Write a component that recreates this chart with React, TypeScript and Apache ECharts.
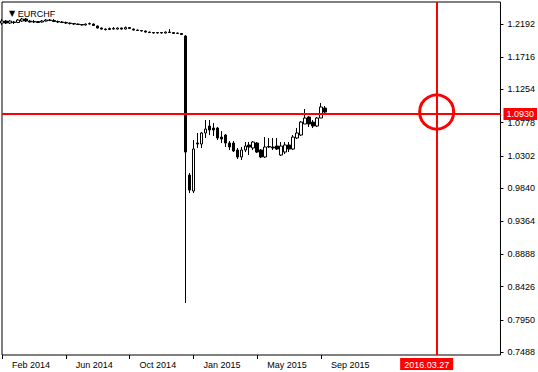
import React, { useEffect, useRef } from "react";
import * as echarts from "echarts";

const symbolName = "EURCHF";
const firstWeek = [2014, 2, 23];
const weekCount = 126;
const labelEvery = 16;
const lastLabelIndex = 81;
const priceTicks = [1.2192, 1.1716, 1.1254, 1.0778, 1.0302, 0.984, 0.9364, 0.8888, 0.8426, 0.795, 0.7488];
const yMin = 0.7445;
const yMax = 1.2508;
const bidPrice = 1.093;
const crossDate = "2016.03.27";
const crossPrice = 1.093;
const monthNames = ["Jan", "Feb", "Mar", "Apr", "May", "Jun", "Jul", "Aug", "Sep", "Oct", "Nov", "Dec"];

const opens = [
  1.2206, 1.2235, 1.2206, 1.2221, 1.2214, 1.2235, 1.2264, 1.2235, 1.2221, 1.2228,
  1.2221, 1.2235, 1.2249, 1.2242, 1.2228, 1.2221, 1.2214, 1.2206, 1.2199, 1.2192,
  1.2185, 1.2178, 1.2192, 1.2192, 1.2163, 1.2135, 1.212, 1.2113, 1.2128, 1.212,
  1.2135, 1.212, 1.2142, 1.212, 1.2106, 1.2099, 1.2092, 1.2077, 1.207, 1.2063,
  1.207, 1.2063, 1.2077, 1.207, 1.2056, 1.2056,
  1.202, 1.0026, 0.9797, 1.0485, 1.0471, 1.0629, 1.0729, 1.07, 1.07, 1.0571,
  1.06, 1.0485, 1.0485, 1.0385, 1.0285, 1.0385, 1.0457, 1.0414, 1.0485, 1.0385,
  1.0285, 1.0435, 1.0428, 1.0442, 1.0313, 1.0356, 1.0457, 1.0399, 1.0557, 1.06,
  1.0758, 1.0858, 1.0786, 1.0729, 1.0844, 1.0987,
];
const closes = [
  1.2235, 1.2206, 1.2235, 1.2214, 1.2249, 1.2264, 1.2235, 1.2221, 1.2228, 1.2214,
  1.2235, 1.2249, 1.2242, 1.2228, 1.2221, 1.2214, 1.2206, 1.2199, 1.2192, 1.2185,
  1.2178, 1.2192, 1.2199, 1.2171, 1.2135, 1.212, 1.2113, 1.2128, 1.212, 1.2135,
  1.212, 1.2142, 1.2128, 1.2106, 1.2099, 1.2092, 1.2077, 1.207, 1.2063, 1.207,
  1.2063, 1.2077, 1.207, 1.2056, 1.2063, 1.2042,
  1.0356, 0.9811, 1.0399, 1.0471, 1.0629, 1.0686, 1.0672, 1.0672, 1.0557, 1.0543,
  1.0485, 1.0428, 1.0371, 1.0285, 1.0385, 1.0442, 1.0428, 1.05, 1.0356, 1.0285,
  1.0428, 1.0428, 1.0414, 1.0399, 1.0442, 1.0457, 1.0399, 1.0571, 1.0629, 1.0786,
  1.0844, 1.0758, 1.0729, 1.0844, 1.1002, 1.093,
];
const lows = [
  1.2178, 1.2192, 1.2192, 1.2192, 1.2206, 1.2221, 1.2221, 1.2214, 1.2206, 1.2206,
  1.2214, 1.2228, 1.2235, 1.2221, 1.2206, 1.2206, 1.2192, 1.2185, 1.2178, 1.2178,
  1.2171, 1.2171, 1.2185, 1.2163, 1.2128, 1.2113, 1.2099, 1.2106, 1.2113, 1.2113,
  1.2113, 1.2113, 1.212, 1.2099, 1.2092, 1.2085, 1.207, 1.2063, 1.2056, 1.2056,
  1.2056, 1.2056, 1.2063, 1.2049, 1.2049, 1.2034,
  0.8191, 0.9768, 0.9768, 1.0414, 1.0414, 1.0557, 1.06, 1.0586, 1.0528, 1.0485,
  1.0428, 1.0385, 1.0356, 1.0256, 1.0242, 1.0356, 1.0313, 1.0385, 1.0342, 1.027,
  1.027, 1.0414, 1.0385, 1.0385, 1.0299, 1.0328, 1.0356, 1.0385, 1.0543, 1.0586,
  1.0758, 1.0715, 1.07, 1.0715, 1.0844, 1.0901,
];
const highs = [
  1.2264, 1.2249, 1.2249, 1.2235, 1.2264, 1.2278, 1.2278, 1.2249, 1.2249, 1.2235,
  1.2249, 1.2264, 1.2264, 1.2264, 1.2242, 1.2235, 1.2228, 1.2214, 1.2206, 1.2199,
  1.2192, 1.2199, 1.2214, 1.2199, 1.2171, 1.2142, 1.2128, 1.2142, 1.2149, 1.2142,
  1.2142, 1.2156, 1.2149, 1.2128, 1.2113, 1.2106, 1.2099, 1.2085, 1.2077, 1.2077,
  1.2077, 1.2085, 1.212, 1.2077, 1.207, 1.2063,
  1.2034, 1.0055, 1.0528, 1.0629, 1.0643, 1.0815, 1.0815, 1.0772, 1.0715, 1.0657,
  1.0614, 1.0514, 1.0514, 1.0414, 1.0428, 1.05, 1.05, 1.0514, 1.05, 1.0399,
  1.0571, 1.0557, 1.0557, 1.0557, 1.05, 1.05, 1.05, 1.06, 1.07, 1.0801,
  1.0973, 1.0872, 1.0815, 1.0858, 1.1059, 1.1016,
];

const pad = (n: number) => (n < 10 ? "0" + n : "" + n);
const weeks: string[] = [];
for (let i = 0; i < weekCount; i++) {
  const d = new Date(Date.UTC(firstWeek[0], firstWeek[1] - 1, firstWeek[2] + 7 * i));
  weeks.push(d.getUTCFullYear() + "." + pad(d.getUTCMonth() + 1) + "." + pad(d.getUTCDate()));
}

const FONT = "'Liberation Sans', Arial, sans-serif";
const RED = "#ff0000";

export default function App() {
  const ref = useRef<HTMLDivElement>(null);
  useEffect(() => {
    if (!ref.current) return;
    const chart = echarts.init(ref.current, undefined, { renderer: "svg" });
    const showIdx = (index: number) => index % labelEvery === 0 && index <= lastLabelIndex;
    chart.setOption({
      animation: false,
      backgroundColor: "#ffffff",
      title: {
        text: "{t|▼} " + symbolName,
        left: 4,
        top: 4,
        textStyle: {
          fontSize: 9,
          fontWeight: "normal",
          color: "#000",
          fontFamily: FONT,
          rich: { t: { fontSize: 8, fontFamily: "'DejaVu Sans', sans-serif", color: "#000" } },
        },
      },
      grid: {
        left: 2,
        right: 35,
        top: 2,
        bottom: 17,
        show: true,
        borderColor: "#000",
        borderWidth: 1,
        backgroundColor: "#fff",
      },
      xAxis: {
        type: "category",
        data: weeks,
        boundaryGap: false,
        axisLine: { show: false },
        axisTick: { show: true, interval: (i: number) => showIdx(i), length: 4, lineStyle: { color: "#000" } },
        axisLabel: {
          interval: (i: number) => showIdx(i),
          align: "left",
          padding: [0, 0, 0, 10],
          margin: 5,
          fontSize: 9,
          color: "#000",
          fontFamily: FONT,
          formatter: (v: string) => {
            const p = v.split(".");
            return monthNames[parseInt(p[1], 10) - 1] + " " + p[0];
          },
        },
        splitLine: { show: false },
      },
      yAxis: {
        type: "value",
        position: "right",
        min: yMin,
        max: yMax,
        scale: true,
        axisLine: { show: false },
        axisTick: { show: true, customValues: priceTicks, length: 3, lineStyle: { color: "#000" } },
        axisLabel: {
          customValues: priceTicks,
          margin: 7,
          fontSize: 9,
          color: "#000",
          fontFamily: FONT,
          formatter: (v: number) => v.toFixed(4),
        },
        splitLine: { show: false },
      },
      series: [
        {
          type: "candlestick",
          data: opens.map((o, i) => [o, closes[i], lows[i], highs[i]]),
          barWidth: 3,
          clip: true,
          itemStyle: {
            color: "#ffffff",
            color0: "#000000",
            borderColor: "#000000",
            borderColor0: "#000000",
            borderWidth: 1,
          },
          markLine: {
            symbol: ["none", "none"],
            silent: true,
            animation: false,
            data: [
              {
                xAxis: crossDate,
                lineStyle: { color: RED, width: 2, type: "solid" },
                label: {
                  show: true,
                  position: "start",
                  formatter: crossDate,
                  backgroundColor: RED,
                  color: "#fff",
                  padding: [2, 4, 1, 4],
                  fontSize: 9,
                  fontFamily: FONT,
                  distance: 3,
                  offset: [-10, 0],
                },
              },
              {
                yAxis: bidPrice,
                lineStyle: { color: RED, width: 2, type: "solid" },
                label: {
                  show: true,
                  position: "end",
                  formatter: bidPrice.toFixed(4),
                  backgroundColor: RED,
                  color: "#fff",
                  padding: [2, 3, 1, 3],
                  fontSize: 9,
                  fontFamily: FONT,
                  distance: 3,
                },
              },
            ],
          },
          markPoint: {
            silent: true,
            animation: false,
            data: [
              {
                coord: [crossDate, crossPrice],
                symbol: "circle",
                symbolSize: 34,
                itemStyle: { color: "rgba(0,0,0,0)", borderColor: RED, borderWidth: 3 },
                label: { show: false },
              },
            ],
          },
        },
      ],
    });
    return () => chart.dispose();
  }, []);
  return <div ref={ref} style={{ position: "absolute", left: 0, top: 0, width: 538, height: 372 }} />;
}
